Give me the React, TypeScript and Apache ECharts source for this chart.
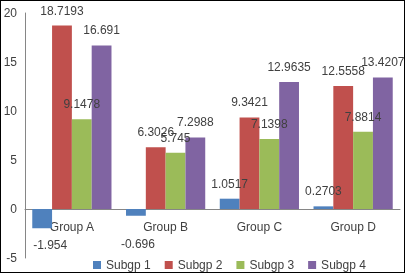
import React, { useEffect, useRef } from "react";
import * as echarts from "echarts";

const categories = ["Group A", "Group B", "Group C", "Group D"];
const seriesNames = ["Subgp 1", "Subgp 2", "Subgp 3", "Subgp 4"];
const subgp1 = [-1.954, -0.696, 1.0517, 0.2703];
const subgp2 = [18.7193, 6.3026, 9.3421, 12.5558];
const subgp3 = [9.1478, 5.745, 7.1398, 7.8814];
const subgp4 = [16.691, 7.2988, 12.9635, 13.4207];
const colors = ["#4F81BD", "#C0504D", "#9BBB59", "#8064A2"];
const yTicks = { min: -5, max: 20, interval: 5 };

// label nudges (style only) for Subgp 1 negative labels, per category
const subgp1LabelOffsets = [[8, 2], [2, 13], [0, 0], [0, 0]];

const FONT = "'Liberation Sans', Arial, sans-serif";
const TXT = "#404040";

const W = 405;
const H = 273;
const GRID = { left: 25, right: 5, top: 13, bottom: 15 };

export default function App() {
  const ref = useRef<HTMLDivElement>(null);
  useEffect(() => {
    if (!ref.current) return;
    const chart = echarts.init(ref.current, undefined, { renderer: "svg" });
    const all = [subgp1, subgp2, subgp3, subgp4];
    const plotH = H - GRID.top - GRID.bottom;
    const zeroOffset = -plotH * (0 - yTicks.min) / (yTicks.max - yTicks.min);
    chart.setOption({
      animation: false,
      color: colors,
      textStyle: { fontFamily: FONT },
      grid: {
        ...GRID,
        containLabel: false,
        outerBoundsMode: "none",
      },
      legend: {
        data: seriesNames,
        left: 88,
        top: 254,
        icon: "rect",
        itemWidth: 8,
        itemHeight: 8,
        itemGap: 14,
        textStyle: { fontSize: 12, color: TXT, fontFamily: FONT },
      },
      xAxis: {
        type: "category",
        data: categories,
        offset: zeroOffset,
        axisLine: { show: true, onZero: false, lineStyle: { color: "#868686", width: 1 } },
        axisTick: { show: false },
        axisLabel: { fontSize: 12, color: TXT, margin: 12, fontFamily: FONT },
        splitLine: { show: false },
      },
      yAxis: {
        type: "value",
        min: yTicks.min,
        max: yTicks.max,
        interval: yTicks.interval,
        axisLine: { show: true, onZero: false, lineStyle: { color: "#868686", width: 1 } },
        axisTick: { show: false },
        splitLine: { show: false },
        axisLabel: { fontSize: 12, color: TXT, margin: 8, fontFamily: FONT },
      },
      series: all.map((vals, i) => ({
        name: seriesNames[i],
        type: "bar",
        barGap: "0%",
        barCategoryGap: "15.5%",
        data: vals.map((v, j) => ({
          value: v,
          label: {
            position: v < 0 ? "bottom" : "top",
            offset: i === 0 ? subgp1LabelOffsets[j] : [0, 0],
          },
        })),
        label: {
          show: true,
          fontSize: 12,
          color: TXT,
          distance: 9,
          fontFamily: FONT,
        },
      })),
    });
    return () => chart.dispose();
  }, []);
  return (
    <div style={{ position: "fixed", left: 0, top: 0, width: W, height: H }}>
      <div ref={ref} style={{ width: W, height: H }} />
      <div
        style={{
          position: "absolute",
          left: 0,
          top: 0,
          width: W,
          height: H,
          boxSizing: "border-box",
          border: "1px solid #000",
          pointerEvents: "none",
        }}
      />
    </div>
  );
}
